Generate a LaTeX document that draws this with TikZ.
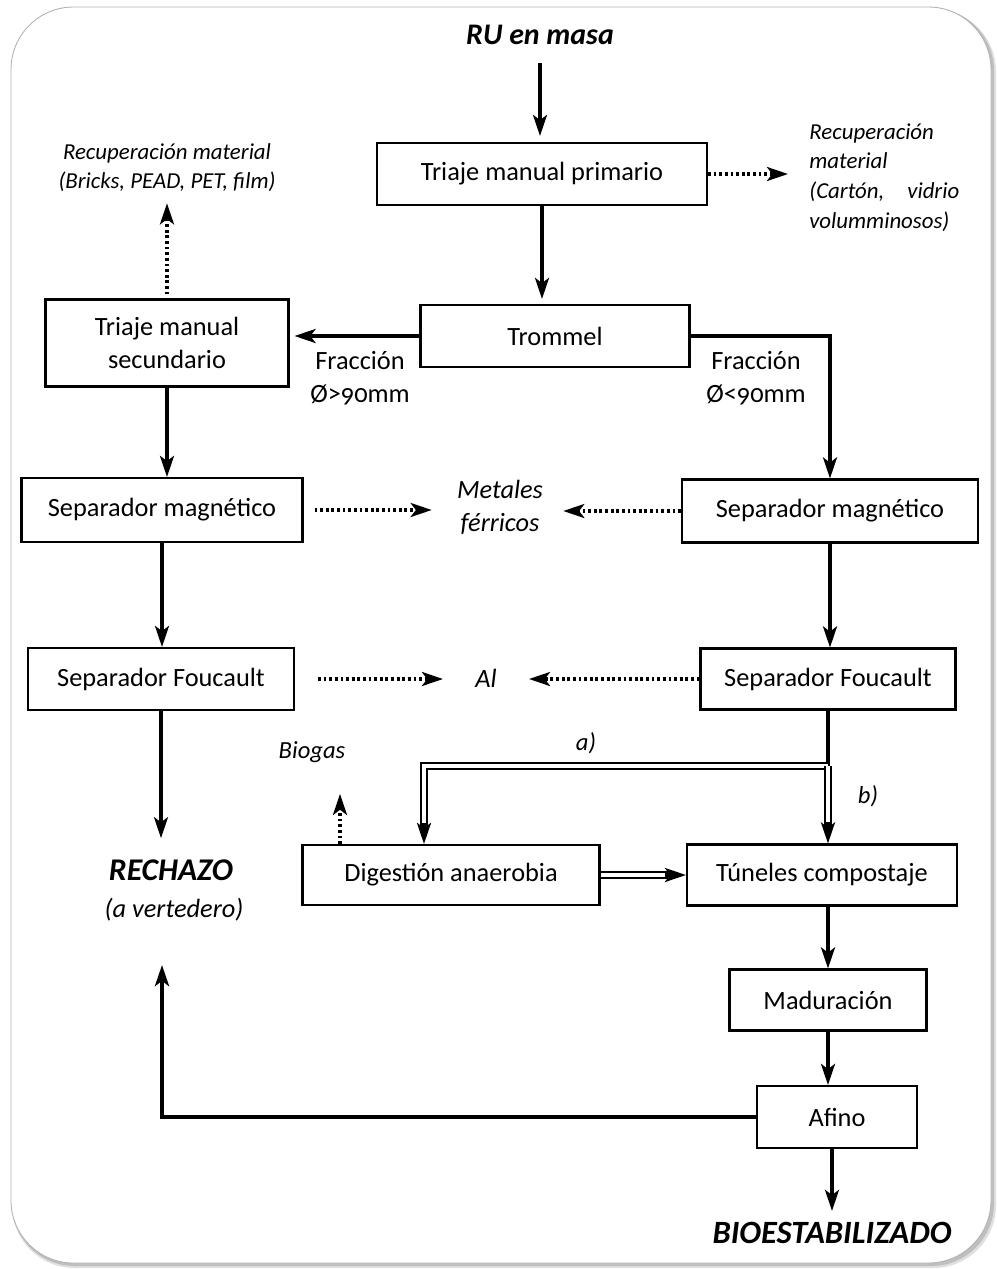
\documentclass[tikz,border=0pt]{standalone}
\usepackage{fontspec}
\setmainfont{Carlito}[Numbers=OldStyle]
\usetikzlibrary{arrows.meta}

\begin{document}
\begin{tikzpicture}[x=0.02cm, y=-0.02cm,
    box/.style = {draw, line width=1.2pt, inner sep=0pt, align=center, font=\fontsize{15}{18.5}\selectfont},
    flow/.style = {line width=1.8pt, -{Stealth[length=12pt, width=8pt, inset=3pt]}},
    sideflow/.style = {line width=1.8pt, dash pattern=on 1.6pt off 1.6pt, -{Stealth[length=12pt, width=8pt, inset=3pt]}},
    twin/.style = {line width=0.9pt, double distance=2.2pt},
    note/.style = {inner sep=0pt, font=\fontsize{13}{17}\selectfont\itshape},
    bignote/.style = {inner sep=0pt, align=center, font=\fontsize{15}{18.7}\selectfont\itshape},
    tag/.style = {inner sep=0pt, align=center, font=\fontsize{15}{18.7}\selectfont},
    headline/.style = {inner sep=0pt, font=\fontsize{17}{20}\selectfont\bfseries\itshape}]
    \useasboundingbox (0,0) rectangle (997,1269);
    % Draw the frame with its shadow
    \fill[black!12, rounded corners=1.25cm] (12,9) rectangle (996,1268);
    \fill[black!25, rounded corners=1.25cm] (12,8) rectangle (994,1266);
    \filldraw[fill=white, draw=black!30, line width=0.5pt, rounded corners=1.25cm] (11,7) rectangle (991,1263);

    % Draw the boxes
    \node[box, minimum width=6.6cm, minimum height=1.24cm] (prim) at (542,174) {Triaje manual primario};
    \node[box, minimum width=5.38cm, minimum height=1.24cm] (trom) at (555,336) {Trommel};
    \node[box, minimum width=4.86cm, minimum height=1.74cm] (sec) at (167,343) {Triaje manual\\secundario};
    \node[box, minimum width=5.62cm, minimum height=1.28cm] (magL) at (162,510) {Separador magnético};
    \node[box, minimum width=5.92cm, minimum height=1.26cm] (magR) at (830,511) {Separador magnético};
    \node[box, minimum width=5.32cm, minimum height=1.24cm] (fouL) at (161,679) {Separador Foucault};
    \node[box, minimum width=5.1cm, minimum height=1.22cm] (fouR) at (828,679) {Separador Foucault};
    \node[box, minimum width=5.94cm, minimum height=1.2cm] (dig) at (451,875) {Digestión anaerobia};
    \node[box, minimum width=5.4cm, minimum height=1.22cm] (tun) at (822,875) {Túneles compostaje};
    \node[box, minimum width=3.94cm, minimum height=1.22cm] (mad) at (828,1000) {Maduración};
    \node[box, minimum width=3.2cm, minimum height=1.24cm] (afi) at (837,1117) {Afino};

    % Draw the texts
    \node[headline] (ru) at (540,35) {RU en masa};
    \node[headline, font=\fontsize{18}{20}\selectfont\bfseries\itshape] (rech) at (171,870) {RECHAZO};
    \node[bignote] (vert) at (174,910) {(a vertedero)};
    \node[headline, font=\fontsize{18.5}{20}\selectfont\bfseries\itshape] (bio) at (832,1233) {BIOESTABILIZADO};
    \node[note, align=center, font=\fontsize{13}{16.5}\selectfont\itshape] (recL) at (167,168) {Recuperación material\\(Bricks, PEAD, PET, film)};
    \node[note, text width=3cm, align=left, anchor=north west] (recR) at (809,123) {Recuperación\\material\\(Cartón,\hfill vidrio\\volumminosos)};
    \node[tag] (fracL) at (360,378) {Fracción\\Ø>90mm};
    \node[tag] (fracR) at (756,378) {Fracción\\Ø<90mm};
    \node[bignote] (fer) at (500,507) {Metales\\férricos};
    \node[bignote] (al) at (486,678) {Al};
    \node[note, font=\fontsize{14}{16}\selectfont\itshape] (biog) at (312,752) {Biogas};
    \node[note, font=\fontsize{14}{16}\selectfont\itshape] (opa) at (586,743) {a)};
    \node[note, font=\fontsize{14}{16}\selectfont\itshape] (opb) at (868,796) {b)};
    \coordinate (split) at (828,766);
    \coordinate (back) at (162,965);

    % Draw the main line
    \draw[flow, shorten <=0.36cm, shorten >=0.12cm] (ru.south) -- (ru.south |- prim.north);
    \draw[flow, shorten >=0.1cm] (prim.south) -- (prim.south |- trom.north);
    \draw[flow, shorten >=0.1cm] (trom.west) -- (trom.west -| sec.east);
    \draw[flow] (trom.east) -| (magR.north);
    \draw[flow] (sec.south) -- (sec.south |- magL.north);
    \draw[flow] (magL.south) -- (magL.south |- fouL.north);
    \draw[flow] (magR.south) -- (magR.south |- fouR.north);
    \draw[flow, shorten >=0.42cm] (fouL.south) -- (fouL.south |- rech.north);
    \draw[line width=1.8pt] (fouR.south) -- (split);
    \draw[flow] (mad.north |- tun.south) -- (mad.north);
    \draw[flow] (mad.south) -- (mad.south |- afi.north);
    \draw[flow, shorten >=0.22cm] (bio.north |- afi.south) -- (bio.north);
    \draw[flow, line width=2.2pt] (afi.west) -| (back);

    % Draw the recovered materials
    \draw[sideflow, shorten >=0.42cm] (prim.east) -- (prim.east -| recR.west);
    \draw[sideflow, shorten <=0.08cm, shorten >=0.22cm] (sec.north) -- (sec.north |- recL.south);
    \draw[sideflow, shorten <=0.22cm, shorten >=0.5cm] (magL.east) -- (magL.east -| fer.west);
    \draw[sideflow, shorten >=0.4cm] (magR.west) -- (magR.west -| fer.east);
    \draw[sideflow, shorten <=0.46cm, shorten >=0.64cm] (fouL.east) -- (fouL.east -| al.west);
    \draw[sideflow, shorten >=0.64cm] (fouR.west) -- (fouR.west -| al.east);
    \draw[sideflow, shorten >=0.62cm] (340,0 |- dig.north) -- (340,0 |- biog.south);

    % Draw the two ways a) and b)
    \draw[twin, shorten >=10pt] (split) -| (424,0 |- dig.north);
    \draw[flow] ([yshift=12pt]424,0 |- dig.north) -- (424,0 |- dig.north);
    \draw[twin, shorten >=10pt] (split) -- (split |- tun.north);
    \draw[flow] ([yshift=12pt]split |- tun.north) -- (split |- tun.north);
    \draw[twin, shorten >=10pt] (dig.east) -- (tun.west);
    \draw[flow] ([xshift=-12pt]tun.west) -- (tun.west);
\end{tikzpicture}
\end{document}
